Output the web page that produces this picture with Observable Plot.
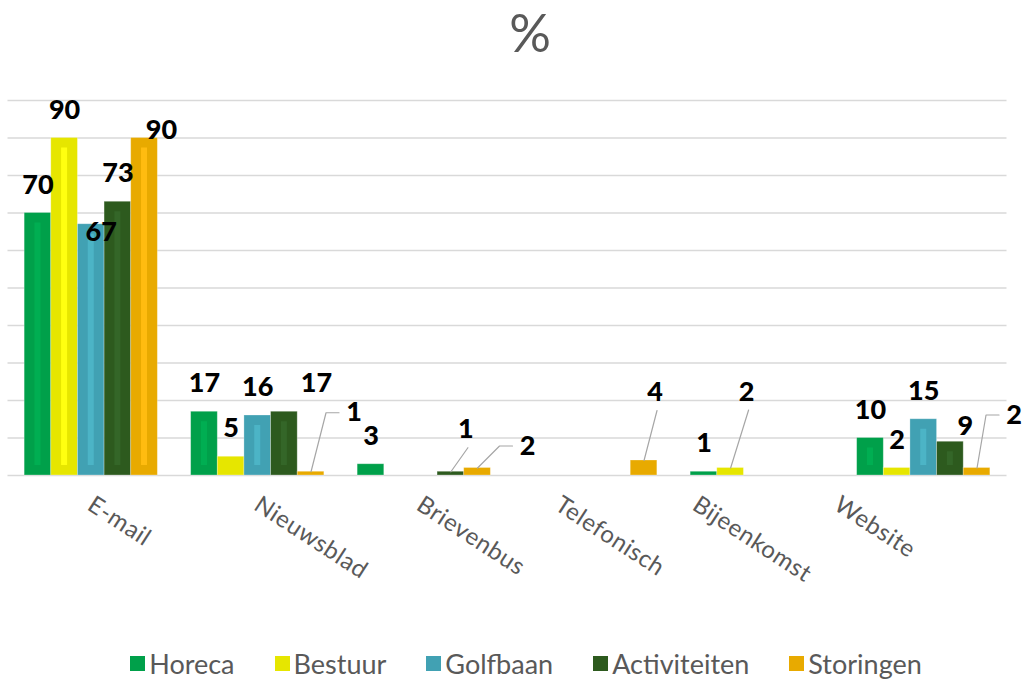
<!DOCTYPE html>
<html>
<head>
<meta charset="utf-8">
<script src="https://cdn.jsdelivr.net/npm/d3@7"></script>
<script src="https://cdn.jsdelivr.net/npm/@observablehq/plot@0.6"></script>
<style>
  html, body { margin: 0; padding: 0; background: #ffffff; }
  body { width: 1024px; height: 680px; overflow: hidden; font-family: Lato, "Noto Sans", sans-serif; }
  #title { height: 70px; box-sizing: border-box; padding-left: 36px; text-align: center;
           font-size: 52px; line-height: 64px; color: #595959; }
  #chart { height: 570px; }
  #legend { height: 40px; box-sizing: border-box; padding-left: 28px; padding-top: 7px; display: flex; justify-content: center;
            align-items: center; gap: 40px; font-family: Lato, sans-serif;
            font-size: 27px; color: #595959; }
  .item { display: flex; align-items: center; gap: 4px; }
  .sw { width: 15px; height: 15px; display: inline-block; }
</style>
</head>
<body>
<div id="title">%</div>
<div id="chart"></div>
<div id="legend"></div>
<script>
// ---- data ----
const categories = ["E-mail", "Nieuwsblad", "Brievenbus", "Telefonisch", "Bijeenkomst", "Website"];
const series = ["Horeca", "Bestuur", "Golfbaan", "Activiteiten", "Storingen"];
const horeca       = [70, 17, 3, 0, 1, 10];
const bestuur      = [90,  5, 0, 0, 2,  2];
const golfbaan     = [67, 16, 0, 0, 0, 15];
const activiteiten = [73, 17, 1, 0, 0,  9];
const storingen    = [90,  1, 2, 4, 0,  2];
const yTicks = d3.range(0, 101, 10);

// ---- style / layout ----
const colors  = ["#00A04A", "#E6E600", "#41A1B3", "#2D5A1E", "#E8AA00"];
const stripes = ["#00AE52", "#FFFF10", "#4CB4C6", "#346628", "#FFBC10"];
// label nudges in pixels [dx, dy, leader?]
const labelNudge = {
  "E-mail|Golfbaan": [10, 36, false],
  "E-mail|Storingen": [17, 20, false],
  "Nieuwsblad|Activiteiten": [32, 0, false],
  "Nieuwsblad|Storingen": [43, -31, true],
  "Brievenbus|Activiteiten": [15, -14, true],
  "Brievenbus|Storingen": [50, 6, true],
  "Telefonisch|Storingen": [11, -40, true],
  "Bijeenkomst|Bestuur": [16, -48, true],
  "Website|Activiteiten": [15, 13, false],
  "Website|Storingen": [37, -25, true]
};
const catNudge = [4, 4, 0, -28, -57, -82];

const W = 1024, H = 570, ml = 7.5, mr = 17.5, mt = 30, mb = 165;
const pxX = (W - ml - mr) / categories.length;
const pxY = (H - mt - mb) / 100;
const groupPad = 0.1, barW = 0.16;

const valuesBySeries = [horeca, bestuur, golfbaan, activiteiten, storingen];
const rows = [];
categories.forEach((c, i) => series.forEach((s, j) => {
  const v = valuesBySeries[j][i];
  if (v > 0) {
    const x1 = i + groupPad + j * barW;
    rows.push({cat: c, series: s, j, value: v, x1, x2: x1 + barW, xc: x1 + barW / 2});
  }
}));

const LABEL_DY = -28;
const labels = rows.map(r => {
  const n = labelNudge[r.cat + "|" + r.series] || [0, 0, false];
  return {...r, lx: r.xc + n[0] / pxX, ly: r.value - n[1] / pxY, leader: n[2], ndx: n[0], ndy: n[1]};
});

// leader line points (derived from bar top and label position)
const leaderPts = [];
labels.filter(d => d.leader).forEach(d => {
  const key = d.cat + d.series;
  const lcx = d.ndx, lcy = LABEL_DY + d.ndy;
  const pts = [[0, 0]];
  if (d.ndx > 25) { pts.push([lcx - 28, lcy]); pts.push([lcx - 15, lcy]); }
  else { pts.push([lcx + 2, lcy + 18]); }
  pts.forEach(([px, py]) => leaderPts.push({key, x: d.xc + px / pxX, y: d.value - py / pxY}));
});

const stripeMarks = series.map((s, j) => Plot.rectY(rows.filter(r => r.j === j && r.value * pxY > 30), {
  x1: r => r.xc - 3 / pxX, x2: r => r.xc + 3 / pxX,
  y1: 10 / pxY, y2: r => r.value - 10 / pxY, fill: stripes[j]
}));

const plot = Plot.plot({
  width: W, height: H,
  marginLeft: ml, marginRight: mr, marginTop: mt, marginBottom: mb,
  x: {domain: [0, categories.length], axis: null},
  y: {domain: [0, 100], axis: null},
  color: {domain: series, range: colors},
  style: {background: "transparent", overflow: "visible"},
  marks: [
    Plot.ruleY(yTicks, {stroke: "#d9d9d9", strokeWidth: 1.5}),
    Plot.rectY(rows, {x1: "x1", x2: "x2", y1: 0, y2: "value", fill: "series", stroke: "#ffffff", strokeOpacity: 0.35, strokeWidth: 0.8}),
    ...stripeMarks,
    Plot.line(leaderPts, {x: "x", y: "y", z: "key", stroke: "#a6a6a6", strokeWidth: 1.2}),
    Plot.text(labels, {x: "lx", y: "ly", text: d => String(d.value), dy: LABEL_DY, lineAnchor: "middle",
      fontSize: 27, fontWeight: 900, fill: "#000000", fontFamily: "Lato, 'DejaVu Sans', sans-serif"}),
    Plot.text(categories, {x: (d, i) => i + 0.5 + catNudge[i] / pxX, y: 0, text: d => d, dy: 19,
      textAnchor: "start", lineAnchor: "top", rotate: 33, fontSize: 24, fill: "#595959",
      fontFamily: "Lato, 'Noto Sans', sans-serif"})
  ]
});
plot.querySelectorAll("text").forEach(t => {
  if (categories.includes(t.textContent)) t.setAttribute("letter-spacing", "0.6");
});
document.getElementById("chart").appendChild(plot);

// legend
const leg = document.getElementById("legend");
series.forEach((s, j) => {
  const it = document.createElement("div");
  it.className = "item";
  it.innerHTML = `<span class="sw" style="background:${colors[j]}"></span><span>${s}</span>`;
  leg.appendChild(it);
});
</script>
</body>
</html>
